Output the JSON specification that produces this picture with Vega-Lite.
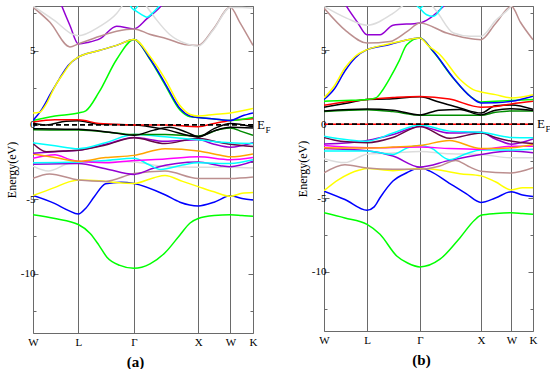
{
"$schema":"https://vega.github.io/schema/vega-lite/v6.json",
"padding":{"left":4,"top":5,"right":0,"bottom":0},
"bounds":"flush",
"spacing":71,
"config":{"view":{"stroke":"#6a6a6a","strokeWidth":1},"font":"Liberation Serif","axis":{"labelColor":"#000","titleColor":"#000","labelFont":"Liberation Serif","titleFont":"Liberation Serif"}},
"datasets":{
"one":[{"note":"Fermi level"}],
"a":[
{"b":"green1","k":0,"E":-6.05},{"b":"green1","k":0.1,"E":-6.3},{"b":"green1","k":0.206,"E":-6.7},{"b":"green1","k":0.26,"E":-7.3},{"b":"green1","k":0.3,"E":-8.1},{"b":"green1","k":0.336,"E":-8.9},{"b":"green1","k":0.395,"E":-9.45},{"b":"green1","k":0.459,"E":-9.65},{"b":"green1","k":0.532,"E":-9.35},{"b":"green1","k":0.6,"E":-8.6},{"b":"green1","k":0.668,"E":-7.4},{"b":"green1","k":0.714,"E":-6.6},{"b":"green1","k":0.751,"E":-6.3},{"b":"green1","k":0.823,"E":-6.1},{"b":"green1","k":0.897,"E":-6.05},{"b":"green1","k":0.95,"E":-6.1},{"b":"green1","k":1,"E":-6.15},
{"b":"blue1","k":0,"E":-4.75},{"b":"blue1","k":0.1,"E":-5.3},{"b":"blue1","k":0.16,"E":-5.75},{"b":"blue1","k":0.206,"E":-6.0},{"b":"blue1","k":0.24,"E":-5.6},{"b":"blue1","k":0.28,"E":-4.8},{"b":"blue1","k":0.33,"E":-3.96},{"b":"blue1","k":0.4,"E":-3.85},{"b":"blue1","k":0.459,"E":-3.94},{"b":"blue1","k":0.6,"E":-4.7},{"b":"blue1","k":0.668,"E":-5.2},{"b":"blue1","k":0.751,"E":-5.45},{"b":"blue1","k":0.823,"E":-5.2},{"b":"blue1","k":0.897,"E":-4.77},{"b":"blue1","k":0.95,"E":-4.95},{"b":"blue1","k":1,"E":-5.05},
{"b":"yellow1","k":0,"E":-4.75},{"b":"yellow1","k":0.1,"E":-4.2},{"b":"yellow1","k":0.16,"E":-3.85},{"b":"yellow1","k":0.206,"E":-3.7},{"b":"yellow1","k":0.3,"E":-3.75},{"b":"yellow1","k":0.38,"E":-3.88},{"b":"yellow1","k":0.459,"E":-3.94},{"b":"yellow1","k":0.55,"E":-3.55},{"b":"yellow1","k":0.6,"E":-3.4},{"b":"yellow1","k":0.68,"E":-3.8},{"b":"yellow1","k":0.751,"E":-4.15},{"b":"yellow1","k":0.823,"E":-4.5},{"b":"yellow1","k":0.897,"E":-4.8},{"b":"yellow1","k":0.95,"E":-4.6},{"b":"yellow1","k":1,"E":-4.55},
{"b":"brown1","k":0,"E":-3.6},{"b":"brown1","k":0.075,"E":-3.3},{"b":"brown1","k":0.206,"E":-3.7},{"b":"brown1","k":0.33,"E":-3.8},{"b":"brown1","k":0.459,"E":-3.27},{"b":"brown1","k":0.6,"E":-3.1},{"b":"brown1","k":0.751,"E":-3.6},{"b":"brown1","k":0.897,"E":-3.6},{"b":"brown1","k":1,"E":-3.5},
{"b":"gray1","k":0,"E":-2.77},{"b":"gray1","k":0.07,"E":-3.1},{"b":"gray1","k":0.16,"E":-2.6},{"b":"gray1","k":0.206,"E":-2.5},{"b":"gray1","k":0.33,"E":-2.45},{"b":"gray1","k":0.459,"E":-2.5},{"b":"gray1","k":0.6,"E":-2.8},{"b":"gray1","k":0.751,"E":-2.85},{"b":"gray1","k":0.897,"E":-2.85},{"b":"gray1","k":1,"E":-2.9},
{"b":"violet1","k":0,"E":-2.65},{"b":"violet1","k":0.206,"E":-2.6},{"b":"violet1","k":0.33,"E":-2.95},{"b":"violet1","k":0.459,"E":-3.33},{"b":"violet1","k":0.55,"E":-2.9},{"b":"violet1","k":0.751,"E":-2.5},{"b":"violet1","k":0.85,"E":-2.75},{"b":"violet1","k":0.897,"E":-2.82},{"b":"violet1","k":1,"E":-2.45},
{"b":"cyan2","k":0,"E":-2.55},{"b":"cyan2","k":0.206,"E":-2.5},{"b":"cyan2","k":0.33,"E":-2.4},{"b":"cyan2","k":0.459,"E":-2.25},{"b":"cyan2","k":0.53,"E":-2.7},{"b":"cyan2","k":0.58,"E":-3.0},{"b":"cyan2","k":0.68,"E":-2.7},{"b":"cyan2","k":0.751,"E":-2.55},{"b":"cyan2","k":0.897,"E":-2.6},{"b":"cyan2","k":1,"E":-2.35},
{"b":"magenta","k":0,"E":-2.25},{"b":"magenta","k":0.1,"E":-2.0},{"b":"magenta","k":0.17,"E":-2.35},{"b":"magenta","k":0.206,"E":-2.45},{"b":"magenta","k":0.33,"E":-2.55},{"b":"magenta","k":0.459,"E":-2.4},{"b":"magenta","k":0.6,"E":-2.3},{"b":"magenta","k":0.751,"E":-2.15},{"b":"magenta","k":0.897,"E":-2.35},{"b":"magenta","k":1,"E":-2.2},
{"b":"orange","k":0,"E":-1.95},{"b":"orange","k":0.1,"E":-2.2},{"b":"orange","k":0.206,"E":-2.45},{"b":"orange","k":0.33,"E":-2.2},{"b":"orange","k":0.459,"E":-2.05},{"b":"orange","k":0.6,"E":-1.6},{"b":"orange","k":0.751,"E":-1.75},{"b":"orange","k":0.823,"E":-1.95},{"b":"orange","k":0.897,"E":-2.15},{"b":"orange","k":1,"E":-1.95},
{"b":"violet2","k":0,"E":-1.9},{"b":"violet2","k":0.1,"E":-1.8},{"b":"violet2","k":0.206,"E":-1.7},{"b":"violet2","k":0.33,"E":-1.3},{"b":"violet2","k":0.459,"E":-0.85},{"b":"violet2","k":0.6,"E":-1.1},{"b":"violet2","k":0.751,"E":-1.0},{"b":"violet2","k":0.823,"E":-1.3},{"b":"violet2","k":0.897,"E":-1.5},{"b":"violet2","k":1,"E":-1.2},
{"b":"maroon","k":0,"E":-1.25},{"b":"maroon","k":0.06,"E":-1.8},{"b":"maroon","k":0.15,"E":-1.75},{"b":"maroon","k":0.206,"E":-1.7},{"b":"maroon","k":0.33,"E":-1.35},{"b":"maroon","k":0.459,"E":-0.87},{"b":"maroon","k":0.6,"E":-1.25},{"b":"maroon","k":0.751,"E":-0.9},{"b":"maroon","k":0.823,"E":-1.1},{"b":"maroon","k":0.897,"E":-1.3},{"b":"maroon","k":1,"E":-1.45},
{"b":"cyan1","k":0,"E":-1.2},{"b":"cyan1","k":0.1,"E":-1.4},{"b":"cyan1","k":0.206,"E":-1.6},{"b":"cyan1","k":0.33,"E":-1.2},{"b":"cyan1","k":0.459,"E":-0.65},{"b":"cyan1","k":0.6,"E":-0.8},{"b":"cyan1","k":0.751,"E":-1.0},{"b":"cyan1","k":0.897,"E":-1.2},{"b":"cyan1","k":1,"E":-1.25},
{"b":"green4","k":0,"E":-0.33},{"b":"green4","k":0.206,"E":-0.35},{"b":"green4","k":0.38,"E":-0.55},{"b":"green4","k":0.459,"E":-0.65},{"b":"green4","k":0.6,"E":-0.65},{"b":"green4","k":0.751,"E":-0.75},{"b":"green4","k":0.85,"E":-0.3},{"b":"green4","k":0.897,"E":-0.2},{"b":"green4","k":0.95,"E":-0.45},{"b":"green4","k":1,"E":-0.7},
{"b":"black2","k":0,"E":-0.25},{"b":"black2","k":0.1,"E":-0.28},{"b":"black2","k":0.206,"E":-0.3},{"b":"black2","k":0.35,"E":-0.5},{"b":"black2","k":0.459,"E":-0.7},{"b":"black2","k":0.55,"E":-0.35},{"b":"black2","k":0.62,"E":-0.15},{"b":"black2","k":0.7,"E":-0.5},{"b":"black2","k":0.751,"E":-0.8},{"b":"black2","k":0.823,"E":-0.4},{"b":"black2","k":0.897,"E":-0.15},{"b":"black2","k":1,"E":-0.2},
{"b":"black1","k":0,"E":0.12},{"b":"black1","k":0.06,"E":0.0},{"b":"black1","k":0.15,"E":0.25},{"b":"black1","k":0.206,"E":0.28},{"b":"black1","k":0.3,"E":0.05},{"b":"black1","k":0.459,"E":0.0},{"b":"black1","k":0.6,"E":-0.3},{"b":"black1","k":0.751,"E":-0.8},{"b":"black1","k":0.823,"E":-0.25},{"b":"black1","k":0.897,"E":0.1},{"b":"black1","k":1,"E":-0.13},
{"b":"red1","k":0,"E":0.2},{"b":"red1","k":0.1,"E":0.35},{"b":"red1","k":0.206,"E":0.35},{"b":"red1","k":0.3,"E":0.1},{"b":"red1","k":0.459,"E":0.0},{"b":"red1","k":0.6,"E":0.0},{"b":"red1","k":0.751,"E":-0.12},{"b":"red1","k":0.823,"E":0.1},{"b":"red1","k":0.897,"E":0.3},{"b":"red1","k":1,"E":0.42},
{"b":"green2","k":0,"E":0.3},{"b":"green2","k":0.1,"E":0.6},{"b":"green2","k":0.206,"E":0.8},{"b":"green2","k":0.24,"E":0.95},{"b":"green2","k":0.3,"E":2.2},{"b":"green2","k":0.38,"E":4.4},{"b":"green2","k":0.459,"E":5.75},{"b":"green2","k":0.532,"E":4.4},{"b":"green2","k":0.6,"E":2.7},{"b":"green2","k":0.668,"E":1.0},{"b":"green2","k":0.714,"E":0.55},{"b":"green2","k":0.751,"E":0.5},{"b":"green2","k":0.823,"E":0.4},{"b":"green2","k":0.897,"E":0.3},{"b":"green2","k":1,"E":0.5},
{"b":"blue2","k":0,"E":0.3},{"b":"blue2","k":0.04,"E":1.05},{"b":"blue2","k":0.08,"E":2.1},{"b":"blue2","k":0.12,"E":3.1},{"b":"blue2","k":0.16,"E":4.0},{"b":"blue2","k":0.206,"E":4.56},{"b":"blue2","k":0.3,"E":5.0},{"b":"blue2","k":0.38,"E":5.35},{"b":"blue2","k":0.459,"E":5.75},{"b":"blue2","k":0.532,"E":4.45},{"b":"blue2","k":0.6,"E":2.8},{"b":"blue2","k":0.668,"E":1.1},{"b":"blue2","k":0.714,"E":0.6},{"b":"blue2","k":0.751,"E":0.5},{"b":"blue2","k":0.823,"E":0.4},{"b":"blue2","k":0.897,"E":0.3},{"b":"blue2","k":0.95,"E":0.6},{"b":"blue2","k":1,"E":0.8},
{"b":"yellow2","k":0,"E":0.8},{"b":"yellow2","k":0.03,"E":0.85},{"b":"yellow2","k":0.06,"E":1.4},{"b":"yellow2","k":0.1,"E":2.6},{"b":"yellow2","k":0.14,"E":3.5},{"b":"yellow2","k":0.18,"E":4.3},{"b":"yellow2","k":0.206,"E":4.56},{"b":"yellow2","k":0.3,"E":5.0},{"b":"yellow2","k":0.38,"E":5.35},{"b":"yellow2","k":0.459,"E":5.75},{"b":"yellow2","k":0.532,"E":4.6},{"b":"yellow2","k":0.6,"E":3.1},{"b":"yellow2","k":0.668,"E":1.3},{"b":"yellow2","k":0.714,"E":0.7},{"b":"yellow2","k":0.751,"E":0.6},{"b":"yellow2","k":0.823,"E":0.7},{"b":"yellow2","k":0.897,"E":0.8},{"b":"yellow2","k":1,"E":1.1},
{"b":"violet3","k":0.12,"E":8.4},{"b":"violet3","k":0.13,"E":8.03},{"b":"violet3","k":0.168,"E":6.69},{"b":"violet3","k":0.206,"E":5.45},{"b":"violet3","k":0.25,"E":5.55},{"b":"violet3","k":0.305,"E":5.8},{"b":"violet3","k":0.38,"E":6.64},{"b":"violet3","k":0.459,"E":6.46},{"b":"violet3","k":0.517,"E":7.13},{"b":"violet3","k":0.577,"E":7.92},{"b":"violet3","k":0.6,"E":8.3},
{"b":"brown2","k":0,"E":7.92},{"b":"brown2","k":0.077,"E":6.9},{"b":"brown2","k":0.168,"E":5.25},{"b":"brown2","k":0.206,"E":5.45},{"b":"brown2","k":0.3,"E":5.95},{"b":"brown2","k":0.38,"E":6.3},{"b":"brown2","k":0.459,"E":6.46},{"b":"brown2","k":0.53,"E":6.1},{"b":"brown2","k":0.608,"E":5.8},{"b":"brown2","k":0.7,"E":5.39},{"b":"brown2","k":0.751,"E":5.35},{"b":"brown2","k":0.82,"E":6.46},{"b":"brown2","k":0.897,"E":7.92},{"b":"brown2","k":0.94,"E":6.9},{"b":"brown2","k":1,"E":5.35},
{"b":"gray2","k":0,"E":8.0},{"b":"gray2","k":0.1,"E":7.0},{"b":"gray2","k":0.18,"E":6.1},{"b":"gray2","k":0.206,"E":6.0},{"b":"gray2","k":0.3,"E":6.6},{"b":"gray2","k":0.38,"E":7.5},{"b":"gray2","k":0.43,"E":8.5},{"b":"gray2","k":0.459,"E":8.8},{"b":"gray2","k":0.49,"E":8.5},{"b":"gray2","k":0.52,"E":7.9},{"b":"gray2","k":0.56,"E":7.1},{"b":"gray2","k":0.62,"E":6.1},{"b":"gray2","k":0.7,"E":5.45},{"b":"gray2","k":0.751,"E":5.3},{"b":"gray2","k":0.82,"E":6.4},{"b":"gray2","k":0.897,"E":7.9},{"b":"gray2","k":0.95,"E":7.9},{"b":"gray2","k":1,"E":7.85},
{"b":"cyanT1","k":0.43,"E":8.4},{"b":"cyanT1","k":0.459,"E":7.75},{"b":"cyanT1","k":0.49,"E":8.4},
{"b":"cyanT2","k":0.459,"E":7.75},{"b":"cyanT2","k":0.49,"E":7.45},{"b":"cyanT2","k":0.517,"E":7.25},{"b":"cyanT2","k":0.545,"E":7.55},{"b":"cyanT2","k":0.577,"E":8.05},{"b":"cyanT2","k":0.6,"E":8.4}
],
"b":[
{"b":"green1","k":0,"E":-6.0},{"b":"green1","k":0.1,"E":-6.35},{"b":"green1","k":0.206,"E":-6.78},{"b":"green1","k":0.268,"E":-7.45},{"b":"green1","k":0.348,"E":-8.92},{"b":"green1","k":0.4,"E":-9.4},{"b":"green1","k":0.459,"E":-9.66},{"b":"green1","k":0.555,"E":-9.14},{"b":"green1","k":0.651,"E":-7.68},{"b":"green1","k":0.72,"E":-6.5},{"b":"green1","k":0.751,"E":-6.17},{"b":"green1","k":0.823,"E":-6.05},{"b":"green1","k":0.897,"E":-6.0},{"b":"green1","k":0.95,"E":-6.05},{"b":"green1","k":1,"E":-6.1},
{"b":"blue1","k":0,"E":-4.53},{"b":"blue1","k":0.1,"E":-5.1},{"b":"blue1","k":0.206,"E":-5.83},{"b":"blue1","k":0.24,"E":-5.6},{"b":"blue1","k":0.268,"E":-4.98},{"b":"blue1","k":0.33,"E":-3.85},{"b":"blue1","k":0.396,"E":-3.29},{"b":"blue1","k":0.459,"E":-2.95},{"b":"blue1","k":0.507,"E":-3.18},{"b":"blue1","k":0.6,"E":-4.0},{"b":"blue1","k":0.68,"E":-4.7},{"b":"blue1","k":0.751,"E":-5.3},{"b":"blue1","k":0.82,"E":-5.0},{"b":"blue1","k":0.897,"E":-4.57},{"b":"blue1","k":0.95,"E":-4.8},{"b":"blue1","k":1,"E":-4.9},
{"b":"yellow1","k":0,"E":-4.5},{"b":"yellow1","k":0.07,"E":-3.75},{"b":"yellow1","k":0.17,"E":-3.1},{"b":"yellow1","k":0.206,"E":-3.0},{"b":"yellow1","k":0.33,"E":-3.15},{"b":"yellow1","k":0.459,"E":-3.0},{"b":"yellow1","k":0.55,"E":-3.1},{"b":"yellow1","k":0.65,"E":-3.35},{"b":"yellow1","k":0.751,"E":-3.5},{"b":"yellow1","k":0.82,"E":-3.9},{"b":"yellow1","k":0.897,"E":-4.45},{"b":"yellow1","k":0.95,"E":-4.3},{"b":"yellow1","k":1,"E":-4.3},
{"b":"brown1","k":0,"E":-3.3},{"b":"brown1","k":0.1,"E":-2.75},{"b":"brown1","k":0.206,"E":-2.97},{"b":"brown1","k":0.33,"E":-3.05},{"b":"brown1","k":0.459,"E":-3.05},{"b":"brown1","k":0.55,"E":-2.85},{"b":"brown1","k":0.63,"E":-2.45},{"b":"brown1","k":0.69,"E":-2.85},{"b":"brown1","k":0.751,"E":-3.18},{"b":"brown1","k":0.897,"E":-3.3},{"b":"brown1","k":1,"E":-2.95},
{"b":"gray1","k":0,"E":-2.33},{"b":"gray1","k":0.1,"E":-2.6},{"b":"gray1","k":0.206,"E":-2.03},{"b":"gray1","k":0.33,"E":-1.95},{"b":"gray1","k":0.459,"E":-1.85},{"b":"gray1","k":0.6,"E":-2.0},{"b":"gray1","k":0.751,"E":-2.05},{"b":"gray1","k":0.897,"E":-2.28},{"b":"gray1","k":1,"E":-2.28},
{"b":"violet1","k":0,"E":-1.65},{"b":"violet1","k":0.206,"E":-1.8},{"b":"violet1","k":0.33,"E":-2.15},{"b":"violet1","k":0.459,"E":-2.9},{"b":"violet1","k":0.6,"E":-2.45},{"b":"violet1","k":0.751,"E":-2.05},{"b":"violet1","k":0.897,"E":-1.82},{"b":"violet1","k":1,"E":-1.94},
{"b":"cyan2","k":0,"E":-1.82},{"b":"cyan2","k":0.206,"E":-1.82},{"b":"cyan2","k":0.33,"E":-2.05},{"b":"cyan2","k":0.4,"E":-1.6},{"b":"cyan2","k":0.459,"E":-1.45},{"b":"cyan2","k":0.51,"E":-1.6},{"b":"cyan2","k":0.6,"E":-2.4},{"b":"cyan2","k":0.68,"E":-2.0},{"b":"cyan2","k":0.751,"E":-1.75},{"b":"cyan2","k":0.897,"E":-1.75},{"b":"cyan2","k":1,"E":-1.7},
{"b":"magenta","k":0,"E":-1.45},{"b":"magenta","k":0.206,"E":-1.6},{"b":"magenta","k":0.459,"E":-1.55},{"b":"magenta","k":0.6,"E":-1.65},{"b":"magenta","k":0.751,"E":-1.7},{"b":"magenta","k":0.897,"E":-1.5},{"b":"magenta","k":1,"E":-1.5},
{"b":"orange","k":0,"E":-1.6},{"b":"orange","k":0.206,"E":-1.62},{"b":"orange","k":0.33,"E":-1.55},{"b":"orange","k":0.459,"E":-1.45},{"b":"orange","k":0.6,"E":-1.1},{"b":"orange","k":0.751,"E":-1.65},{"b":"orange","k":0.897,"E":-1.6},{"b":"orange","k":1,"E":-1.37},
{"b":"violet2","k":0,"E":-1.35},{"b":"violet2","k":0.206,"E":-1.1},{"b":"violet2","k":0.33,"E":-0.7},{"b":"violet2","k":0.459,"E":-0.15},{"b":"violet2","k":0.6,"E":-0.6},{"b":"violet2","k":0.751,"E":-0.55},{"b":"violet2","k":0.82,"E":-1.0},{"b":"violet2","k":0.897,"E":-1.35},{"b":"violet2","k":1,"E":-1.0},
{"b":"maroon","k":0,"E":-0.9},{"b":"maroon","k":0.08,"E":-1.15},{"b":"maroon","k":0.206,"E":-1.25},{"b":"maroon","k":0.33,"E":-0.9},{"b":"maroon","k":0.459,"E":-0.15},{"b":"maroon","k":0.6,"E":-0.95},{"b":"maroon","k":0.751,"E":-0.6},{"b":"maroon","k":0.82,"E":-0.9},{"b":"maroon","k":0.897,"E":-1.15},{"b":"maroon","k":1,"E":-1.3},
{"b":"cyan1","k":0,"E":-0.81},{"b":"cyan1","k":0.206,"E":-1.15},{"b":"cyan1","k":0.33,"E":-0.6},{"b":"cyan1","k":0.459,"E":-0.05},{"b":"cyan1","k":0.6,"E":-0.47},{"b":"cyan1","k":0.751,"E":-0.55},{"b":"cyan1","k":0.897,"E":-0.9},{"b":"cyan1","k":1,"E":-0.92},
{"b":"red0","k":0,"E":0},{"b":"red0","k":1,"E":0},
{"b":"green4","k":0,"E":0.85},{"b":"green4","k":0.206,"E":0.98},{"b":"green4","k":0.33,"E":0.85},{"b":"green4","k":0.459,"E":0.61},{"b":"green4","k":0.6,"E":0.61},{"b":"green4","k":0.751,"E":0.61},{"b":"green4","k":0.82,"E":0.8},{"b":"green4","k":0.897,"E":0.9},{"b":"green4","k":1,"E":0.9},
{"b":"black2","k":0,"E":0.9},{"b":"black2","k":0.206,"E":1.02},{"b":"black2","k":0.33,"E":0.95},{"b":"black2","k":0.459,"E":0.62},{"b":"black2","k":0.55,"E":0.95},{"b":"black2","k":0.65,"E":1.0},{"b":"black2","k":0.751,"E":0.63},{"b":"black2","k":0.82,"E":0.95},{"b":"black2","k":0.897,"E":1.05},{"b":"black2","k":1,"E":0.92},
{"b":"black1","k":0,"E":1.15},{"b":"black1","k":0.1,"E":1.4},{"b":"black1","k":0.206,"E":1.67},{"b":"black1","k":0.3,"E":1.7},{"b":"black1","k":0.459,"E":1.85},{"b":"black1","k":0.55,"E":1.5},{"b":"black1","k":0.65,"E":1.1},{"b":"black1","k":0.751,"E":0.75},{"b":"black1","k":0.82,"E":1.25},{"b":"black1","k":0.897,"E":1.3},{"b":"black1","k":1,"E":1.0},
{"b":"red1","k":0,"E":1.28},{"b":"red1","k":0.1,"E":1.5},{"b":"red1","k":0.206,"E":1.67},{"b":"red1","k":0.33,"E":1.8},{"b":"red1","k":0.459,"E":1.88},{"b":"red1","k":0.6,"E":1.7},{"b":"red1","k":0.751,"E":1.15},{"b":"red1","k":0.82,"E":1.2},{"b":"red1","k":0.897,"E":1.37},{"b":"red1","k":1,"E":1.55},
{"b":"green2","k":0,"E":1.55},{"b":"green2","k":0.1,"E":1.6},{"b":"green2","k":0.206,"E":1.67},{"b":"green2","k":0.25,"E":1.8},{"b":"green2","k":0.28,"E":2.3},{"b":"green2","k":0.316,"E":3.13},{"b":"green2","k":0.36,"E":4.3},{"b":"green2","k":0.396,"E":5.38},{"b":"green2","k":0.459,"E":5.83},{"b":"green2","k":0.523,"E":4.9},{"b":"green2","k":0.619,"E":3.1},{"b":"green2","k":0.699,"E":1.9},{"b":"green2","k":0.751,"E":1.5},{"b":"green2","k":0.82,"E":1.55},{"b":"green2","k":0.897,"E":1.6},{"b":"green2","k":1,"E":1.67},
{"b":"blue2","k":0,"E":1.67},{"b":"blue2","k":0.05,"E":2.4},{"b":"blue2","k":0.1,"E":3.6},{"b":"blue2","k":0.15,"E":4.5},{"b":"blue2","k":0.206,"E":5.05},{"b":"blue2","k":0.3,"E":5.35},{"b":"blue2","k":0.38,"E":5.65},{"b":"blue2","k":0.459,"E":5.83},{"b":"blue2","k":0.523,"E":4.93},{"b":"blue2","k":0.619,"E":3.13},{"b":"blue2","k":0.699,"E":1.89},{"b":"blue2","k":0.751,"E":1.44},{"b":"blue2","k":0.82,"E":1.45},{"b":"blue2","k":0.897,"E":1.55},{"b":"blue2","k":1,"E":1.9},
{"b":"yellow2","k":0,"E":1.78},{"b":"yellow2","k":0.05,"E":2.6},{"b":"yellow2","k":0.1,"E":3.8},{"b":"yellow2","k":0.15,"E":4.6},{"b":"yellow2","k":0.206,"E":5.05},{"b":"yellow2","k":0.3,"E":5.4},{"b":"yellow2","k":0.38,"E":5.65},{"b":"yellow2","k":0.459,"E":5.83},{"b":"yellow2","k":0.5,"E":5.3},{"b":"yellow2","k":0.555,"E":4.7},{"b":"yellow2","k":0.651,"E":3.02},{"b":"yellow2","k":0.714,"E":2.34},{"b":"yellow2","k":0.751,"E":2.18},{"b":"yellow2","k":0.82,"E":2.0},{"b":"yellow2","k":0.897,"E":1.78},{"b":"yellow2","k":1,"E":2.0},
{"b":"violet3","k":0.09,"E":8.4},{"b":"violet3","k":0.108,"E":7.97},{"b":"violet3","k":0.16,"E":6.9},{"b":"violet3","k":0.206,"E":6.05},{"b":"violet3","k":0.268,"E":6.06},{"b":"violet3","k":0.33,"E":6.7},{"b":"violet3","k":0.459,"E":6.85},{"b":"violet3","k":0.507,"E":7.18},{"b":"violet3","k":0.571,"E":7.97},{"b":"violet3","k":0.6,"E":8.4},
{"b":"brown2","k":0,"E":7.86},{"b":"brown2","k":0.108,"E":6.28},{"b":"brown2","k":0.206,"E":5.49},{"b":"brown2","k":0.316,"E":5.6},{"b":"brown2","k":0.4,"E":6.3},{"b":"brown2","k":0.459,"E":6.85},{"b":"brown2","k":0.587,"E":6.17},{"b":"brown2","k":0.683,"E":5.83},{"b":"brown2","k":0.751,"E":5.72},{"b":"brown2","k":0.82,"E":6.8},{"b":"brown2","k":0.897,"E":7.97},{"b":"brown2","k":0.94,"E":6.9},{"b":"brown2","k":1,"E":5.72},
{"b":"gray2","k":0,"E":7.97},{"b":"gray2","k":0.108,"E":7.18},{"b":"gray2","k":0.206,"E":6.7},{"b":"gray2","k":0.33,"E":7.5},{"b":"gray2","k":0.42,"E":8.5},{"b":"gray2","k":0.459,"E":8.8},{"b":"gray2","k":0.5,"E":8.3},{"b":"gray2","k":0.539,"E":7.64},{"b":"gray2","k":0.619,"E":6.17},{"b":"gray2","k":0.7,"E":5.95},{"b":"gray2","k":0.751,"E":5.95},{"b":"gray2","k":0.82,"E":7.0},{"b":"gray2","k":0.897,"E":8.0},{"b":"gray2","k":0.93,"E":8.6},
{"b":"cyanT1","k":0.43,"E":8.4},{"b":"cyanT1","k":0.459,"E":7.85},{"b":"cyanT1","k":0.49,"E":8.4},
{"b":"cyanT2","k":0.459,"E":7.85},{"b":"cyanT2","k":0.491,"E":7.41},{"b":"cyanT2","k":0.523,"E":7.3},{"b":"cyanT2","k":0.571,"E":8.09},{"b":"cyanT2","k":0.59,"E":8.5}
]
},
"hconcat":[
{
"width":220,"height":327,
"layer":[
{"data":{"name":"a"},"mark":{"type":"line","clip":true,"strokeWidth":1.5,"interpolate":"monotone"},
"encoding":{
"x":{"field":"k","type":"quantitative","scale":{"domain":[0,1],"nice":false,"zero":false},
"axis":{"values":[0,0.206,0.459,0.751,0.897,1],"labelExpr":"datum.value < 0.1 ? 'W' : datum.value < 0.3 ? 'L' : datum.value < 0.6 ? 'Γ' : datum.value < 0.8 ? 'X' : datum.value < 0.95 ? 'W' : 'K'","grid":true,"gridColor":"#6a6a6a","gridWidth":1,"gridOpacity":1,"ticks":false,"domain":false,"labelFontSize":11,"labelPadding":3,"labelFlush":false,"labelOverlap":false,"labelBound":false,"title":"(a)","titleFontSize":15,"titleFontWeight":"bold","titlePadding":7,"titleX":102}},
"y":{"field":"E","type":"quantitative","scale":{"domain":[-14,8],"nice":false,"zero":false},
"axis":{"orient":"left","values":[-12.5,-10,-7.5,-5,-2.5,0,2.5,5,7.5],"labelExpr":"datum.value % 5 == 0 ? toString(datum.value) : ''","tickSize":{"condition":{"test":"datum.value % 5 == 0","value":-5},"value":-3},"tickColor":"#6a6a6a","domain":false,"grid":false,"labelFontSize":11,"labelPadding":3,"labelFlush":false,"labelOverlap":false,"title":"Energy(eV)","titleFontSize":12,"titleFontWeight":"normal","titlePadding":2}},
"color":{"field":"b","type":"nominal","legend":null,"scale":{"domain":["green1","blue1","yellow1","brown1","gray1","violet1","cyan2","magenta","orange","violet2","maroon","cyan1","green4","black2","black1","red0","red1","green2","blue2","yellow2","violet3","brown2","gray2","cyanT1","cyanT2"],"range":["#00ff00","#0000ff","#ffff00","#bc8f8f","#dcdcdc","#9400d3","#00ffff","#ff00ff","#ffa500","#9400d3","#670748","#00ffff","#008b00","#000000","#000000","#ff0000","#ff0000","#00ff00","#0000ff","#ffff00","#9400d3","#bc8f8f","#dcdcdc","#00ffff","#00ffff"]}}
}},
{"data":{"name":"one"},"mark":{"type":"rule","strokeDash":[5,3],"color":"#000000","strokeWidth":1.8},
"encoding":{"y":{"datum":0,"type":"quantitative","axis":{"orient":"right","values":[-12.5,-10,-7.5,-5,-2.5,0,2.5,5,7.5],"labels":false,"tickSize":{"condition":{"test":"datum.value % 5 == 0","value":-5},"value":-3},"tickColor":"#6a6a6a","domain":false,"grid":false,"title":null}}}},
{"data":{"name":"one"},"mark":{"type":"text","text":"E","align":"left","baseline":"middle","dx":4,"fontSize":13,"font":"Liberation Serif","color":"#000"},
"encoding":{"x":{"datum":1,"type":"quantitative"},"y":{"datum":0,"type":"quantitative","axis":null}}},
{"data":{"name":"one"},"mark":{"type":"text","text":"F","align":"left","baseline":"middle","dx":12.5,"dy":5,"fontSize":9,"font":"Liberation Serif","color":"#000"},
"encoding":{"x":{"datum":1,"type":"quantitative"},"y":{"datum":0,"type":"quantitative","axis":null}}}
],
"resolve":{"axis":{"y":"independent"}}
},
{
"width":209,"height":325,
"layer":[
{"data":{"name":"b"},"mark":{"type":"line","clip":true,"strokeWidth":1.5,"interpolate":"monotone"},
"encoding":{
"x":{"field":"k","type":"quantitative","scale":{"domain":[0,1],"nice":false,"zero":false},
"axis":{"values":[0,0.206,0.459,0.751,0.897,1],"labelExpr":"datum.value < 0.1 ? 'W' : datum.value < 0.3 ? 'L' : datum.value < 0.6 ? 'Γ' : datum.value < 0.8 ? 'X' : datum.value < 0.95 ? 'W' : 'K'","grid":true,"gridColor":"#6a6a6a","gridWidth":1,"gridOpacity":1,"ticks":false,"domain":false,"labelFontSize":11,"labelPadding":3,"labelFlush":false,"labelOverlap":false,"labelBound":false,"title":"(b)","titleFontSize":15,"titleFontWeight":"bold","titlePadding":7,"titleX":97}},
"y":{"field":"E","type":"quantitative","scale":{"domain":[-14,8],"nice":false,"zero":false},
"axis":{"orient":"left","values":[-12.5,-10,-7.5,-5,-2.5,0,2.5,5,7.5],"labelExpr":"datum.value % 5 == 0 ? toString(datum.value) : ''","tickSize":{"condition":{"test":"datum.value % 5 == 0","value":-5},"value":-3},"tickColor":"#6a6a6a","domain":false,"grid":false,"labelFontSize":11,"labelPadding":3,"labelFlush":false,"labelOverlap":false,"title":"Energy(eV)","titleFontSize":12,"titleFontWeight":"normal","titlePadding":2}},
"color":{"field":"b","type":"nominal","legend":null,"scale":{"domain":["green1","blue1","yellow1","brown1","gray1","violet1","cyan2","magenta","orange","violet2","maroon","cyan1","green4","black2","black1","red0","red1","green2","blue2","yellow2","violet3","brown2","gray2","cyanT1","cyanT2"],"range":["#00ff00","#0000ff","#ffff00","#bc8f8f","#dcdcdc","#9400d3","#00ffff","#ff00ff","#ffa500","#9400d3","#670748","#00ffff","#008b00","#000000","#000000","#ff0000","#ff0000","#00ff00","#0000ff","#ffff00","#9400d3","#bc8f8f","#dcdcdc","#00ffff","#00ffff"]}}
}},
{"data":{"name":"one"},"mark":{"type":"rule","strokeDash":[5,3],"color":"#000000","strokeWidth":1.8},
"encoding":{"y":{"datum":0,"type":"quantitative","axis":{"orient":"right","values":[-12.5,-10,-7.5,-5,-2.5,0,2.5,5,7.5],"labels":false,"tickSize":{"condition":{"test":"datum.value % 5 == 0","value":-5},"value":-3},"tickColor":"#6a6a6a","domain":false,"grid":false,"title":null}}}},
{"data":{"name":"one"},"mark":{"type":"text","text":"E","align":"left","baseline":"middle","dx":4,"fontSize":13,"font":"Liberation Serif","color":"#000"},
"encoding":{"x":{"datum":1,"type":"quantitative"},"y":{"datum":0,"type":"quantitative","axis":null}}},
{"data":{"name":"one"},"mark":{"type":"text","text":"F","align":"left","baseline":"middle","dx":12.5,"dy":5,"fontSize":9,"font":"Liberation Serif","color":"#000"},
"encoding":{"x":{"datum":1,"type":"quantitative"},"y":{"datum":0,"type":"quantitative","axis":null}}}
],
"resolve":{"axis":{"y":"independent"}}
}
]
}
